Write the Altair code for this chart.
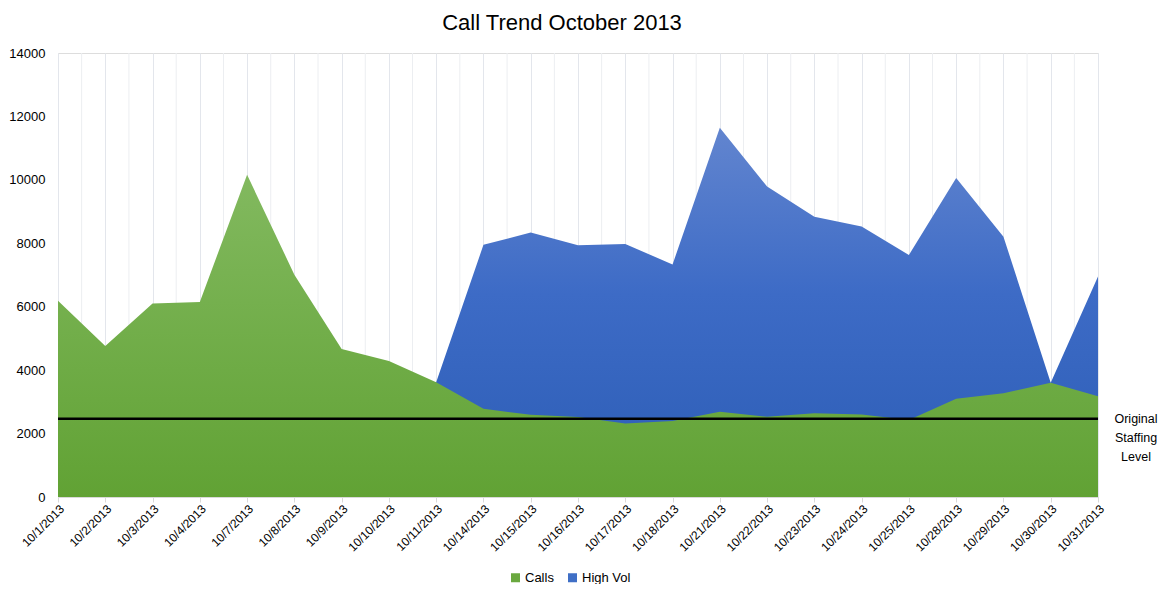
import altair as alt
import pandas as pd

dates = ["10/1/2013", "10/2/2013", "10/3/2013", "10/4/2013", "10/7/2013", "10/8/2013",
         "10/9/2013", "10/10/2013", "10/11/2013", "10/14/2013", "10/15/2013", "10/16/2013",
         "10/17/2013", "10/18/2013", "10/21/2013", "10/22/2013", "10/23/2013", "10/24/2013",
         "10/25/2013", "10/28/2013", "10/29/2013", "10/30/2013", "10/31/2013"]
calls = [6190, 4760, 6100, 6150, 10160, 7010, 4670, 4290, 3620, 2780, 2590, 2520,
         2320, 2400, 2690, 2530, 2640, 2600, 2430, 3100, 3270, 3600, 3180]
high_vol = [0, 0, 0, 0, 0, 0, 0, 0, 3620, 7950, 8340, 7940,
            7980, 7330, 11640, 9790, 8840, 8530, 7630, 10060, 8210, 3600, 6950]
staffing = [2470] * len(dates)
series_names = ["Calls", "High Vol"]
series_colors = ["#6aa83f", "#3f6fc6"]
y_max = 14000

FONT = "Liberation Sans Narrow, Arial Narrow, Liberation Sans, Arial"

df = pd.DataFrame({"i": list(range(len(dates))), "date": dates, "Calls": calls,
                   "HighVol": high_vol, "staff": staffing})

label_expr = "[" + ",".join("'%s'" % d for d in dates) + "][datum.value]"

x_scale = alt.Scale(domain=[0, len(dates) - 1], nice=False, zero=False)
y_scale = alt.Scale(domain=[0, y_max], nice=False)

x_axis = alt.Axis(values=list(range(len(dates))), labelExpr=label_expr, labelAngle=-45,
                  labelAlign="right", labelBaseline="top", labelFontSize=12, labelFont=FONT,
                  labelColor="#000000", labelPadding=1, tickSize=5, tickColor="#d9d9d9",
                  domainColor="#d9d9d9", gridColor="#e3e6ec", title=None, labelOverlap=False)
y_axis = alt.Axis(values=list(range(0, y_max + 1, 2000)), format="d", labelFontSize=13,
                  labelFont=FONT, labelColor="#000000", ticks=False, domain=False,
                  gridColor="#e3e6ec", labelPadding=13, title=None)

base = alt.Chart(df)

green_grad = alt.Gradient(gradient="linear", x1=0, x2=0, y1=0, y2=1,
                          stops=[alt.GradientStop(color="#82b95f", offset=0),
                                 alt.GradientStop(color="#61a234", offset=1)])
blue_grad = alt.Gradient(gradient="linear", x1=0, x2=0, y1=0, y2=1,
                         stops=[alt.GradientStop(color="#6285cf", offset=0),
                                alt.GradientStop(color="#3d6bc6", offset=0.45),
                                alt.GradientStop(color="#2c5db5", offset=1)])

minor = base.transform_filter("datum.i < %d" % (len(dates) - 1)).transform_calculate(
    mid="datum.i + 0.5").mark_rule(color="#eceef1", strokeWidth=1).encode(
    x=alt.X("mid:Q", scale=x_scale, axis=x_axis),
    y=alt.YDatum(y_max, scale=y_scale, axis=y_axis),
    y2=alt.Y2Datum(0))

blue = base.mark_area(color=blue_grad, opacity=1).encode(
    x=alt.X("i:Q", scale=x_scale),
    y=alt.Y("HighVol:Q", scale=y_scale))

green = base.mark_area(color=green_grad, opacity=1).encode(
    x=alt.X("i:Q", scale=x_scale),
    y=alt.Y("Calls:Q", scale=y_scale))

line = base.mark_line(color="#000000", strokeWidth=2.5).encode(
    x=alt.X("i:Q", scale=x_scale),
    y=alt.Y("staff:Q", scale=y_scale))

label = base.transform_filter("datum.i == %d" % (len(dates) - 1)).mark_text(
    text=["Original", "Staffing", "Level"], font=FONT, fontSize=12.5, color="#000000",
    align="center", baseline="middle", dx=38, lineHeight=19).encode(
    x=alt.X("i:Q", scale=x_scale),
    y=alt.Y("staff:Q", scale=y_scale))

legend_df = pd.DataFrame({"series": series_names})
legend_layer = alt.Chart(legend_df).mark_square(opacity=0, size=0).encode(
    color=alt.Color("series:N",
                    scale=alt.Scale(domain=series_names, range=series_colors),
                    legend=alt.Legend(title=None, orient="none", direction="horizontal",
                                      legendX=451, legendY=518, symbolType="square",
                                      symbolSize=81, symbolOpacity=1, symbolStrokeWidth=0,
                                      labelFont=FONT, labelFontSize=13, labelColor="#000000",
                                      columnPadding=12, labelOffset=3)))

chart = alt.layer(minor, blue, green, line, label, legend_layer).properties(
    width=1040, height=444,
    title=alt.TitleParams("Call Trend October 2013", font=FONT, fontSize=22,
                          fontWeight="normal", color="#000000", anchor="middle",
                          dx=-16, offset=12),
    autosize=alt.AutoSizeParams(type="none"),
    padding={"left": 50, "top": 45, "right": 62, "bottom": 87},
).configure_view(stroke=None).configure(background="white")

chart.save("out.html", embed_options={"renderer": "svg", "actions": False})
